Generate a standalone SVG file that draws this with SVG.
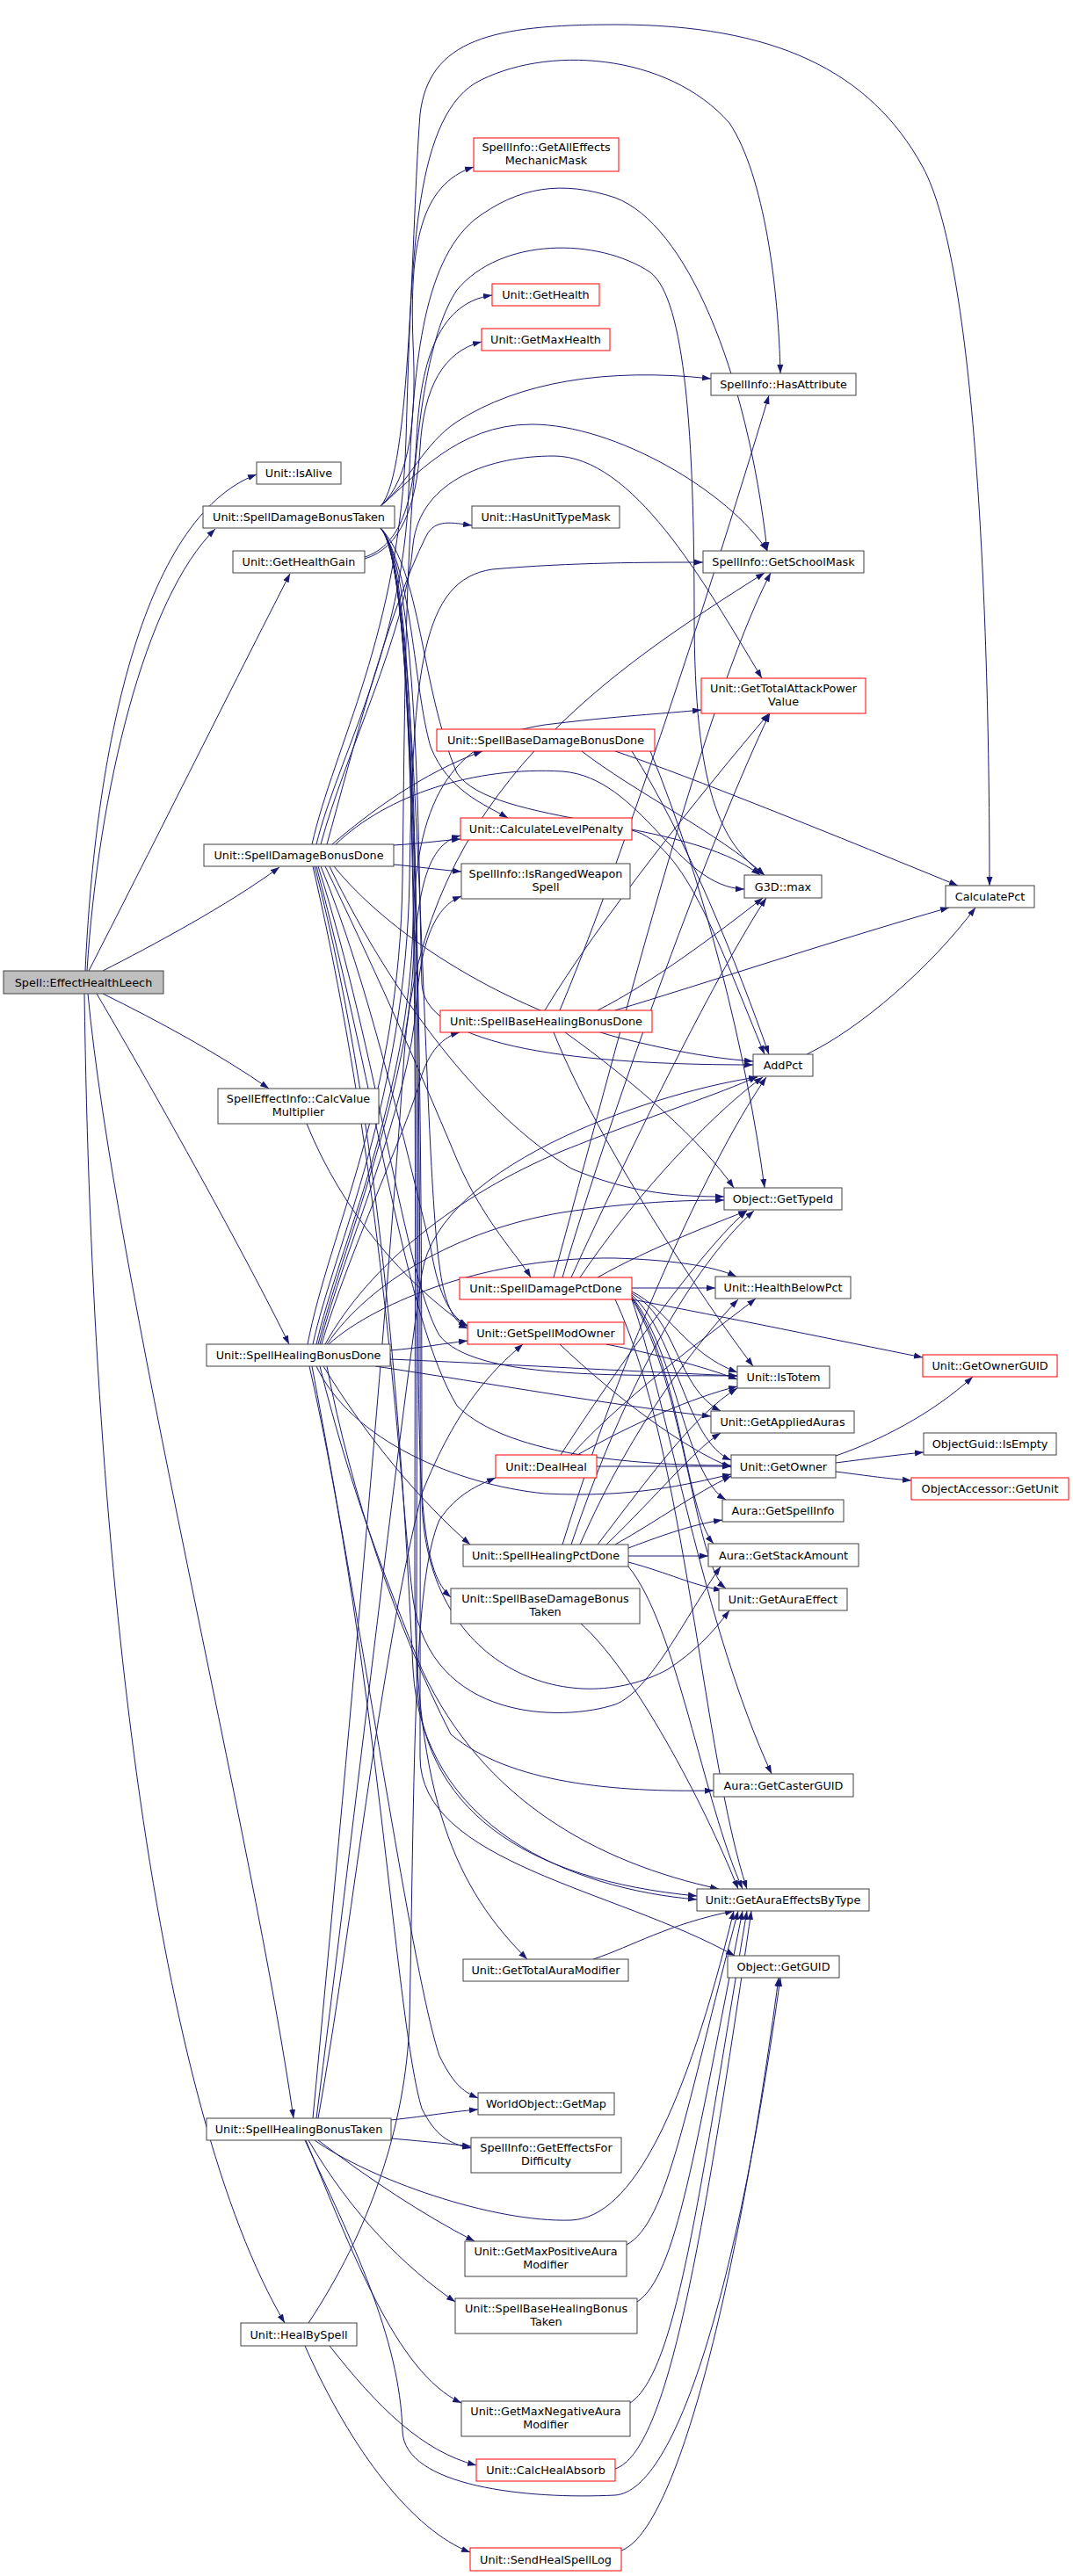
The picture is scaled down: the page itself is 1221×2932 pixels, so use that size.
<svg xmlns="http://www.w3.org/2000/svg" width="1221" height="2932" viewBox="0 0 1221 2932">
<defs>
<marker id="a" markerWidth="10" markerHeight="8" refX="10" refY="4" orient="auto" markerUnits="userSpaceOnUse"><path d="M0,0.5 L10,4 L0,7.5 z" fill="#191970"/></marker>
</defs>
<style>
.e path{fill:none;stroke:#191970;stroke-width:1;marker-end:url(#a)}
.n rect{fill:#ffffff;stroke:#404040;stroke-width:1}
.r rect{stroke:#ff0000}
.root rect{fill:#bfbfbf}
text{font-family:"DejaVu Sans","Liberation Sans",sans-serif;font-size:12.8px;text-anchor:middle;fill:#000000}
</style>
<rect width="1221" height="2932" fill="#ffffff"/>
<g id="edges" class="e">
<path d="M97,1105 C108,860 160,590 292,540"/>
<path d="M99,1105 C112,900 165,680 245,602"/>
<path d="M101,1105 C160,990 270,770 330,653"/>
<path d="M117,1105 C170,1078 260,1030 318,987"/>
<path d="M117,1131 C180,1162 250,1200 306,1239"/>
<path d="M110,1131 C180,1250 280,1430 329,1530"/>
<path d="M100,1131 C130,1450 290,2100 334,2411"/>
<path d="M96,1131 C105,1800 180,2400 324,2644"/>
<path d="M415,634 C452,622 470,580 474,500 C478,420 495,345 560,336"/>
<path d="M415,636 C456,624 474,575 478,510 C482,440 505,400 548,389"/>
<path d="M433,576 C468,545 474,470 470,390 C466,280 478,210 539,190"/>
<path d="M433,576 C466,548 482,505 520,480 C590,435 690,418 809,431"/>
<path d="M433,576 C470,545 520,483 605,483 C700,483 830,560 873,627"/>
<path d="M433,576 C468,540 468,260 478,130 C488,45 560,28 700,28 C880,28 990,80 1050,190 C1110,300 1126,700 1126,1008"/>
<path d="M433,601 C470,650 470,780 490,850 C510,900 550,915 578,931"/>
<path d="M433,601 C480,650 478,780 520,880 C560,940 780,930 865,996"/>
<path d="M433,601 C478,650 476,1000 480,1120 C484,1200 700,1212 857,1212"/>
<path d="M433,601 C476,640 476,1100 476,1500 C476,1720 482,1790 513,1818"/>
<path d="M433,601 C480,650 472,1300 472,1800 C472,2050 520,2150 600,2230"/>
<path d="M433,601 C482,650 474,1400 474,1900 C474,2060 600,2140 793,2158"/>
<path d="M433,601 C484,650 478,1500 478,2000 C478,2120 700,2150 836,2226"/>
<path d="M433,601 C478,640 480,1300 500,1440 C505,1480 515,1505 532,1512"/>
<path d="M433,601 C480,640 480,1400 480,1700 C480,1900 650,1960 760,1900 C790,1880 810,1860 830,1833"/>
<path d="M372,961 C400,860 440,700 485,610 C495,590 515,595 537,598"/>
<path d="M355,961 C380,850 455,720 462,500 C468,300 470,140 540,95 C620,50 760,60 830,140 C870,200 886,330 888,425"/>
<path d="M360,961 C385,860 458,740 465,560 C470,420 480,300 540,250 C590,212 640,205 700,225 C780,255 850,420 873,627"/>
<path d="M365,961 C392,860 462,720 470,620 C478,545 560,519 630,519 C720,519 800,660 867,772"/>
<path d="M378,961 C420,925 480,880 549,855"/>
<path d="M448,962 C480,960 500,957 524,955"/>
<path d="M448,984 C480,987 500,990 525,992"/>
<path d="M382,961 C440,905 540,872 640,878 C730,885 770,1010 847,1012"/>
<path d="M380,986 C440,1060 560,1140 700,1180 C780,1200 820,1205 857,1208"/>
<path d="M375,986 C420,1080 520,1250 650,1330 C720,1360 780,1362 824,1362"/>
<path d="M370,986 C420,1090 470,1200 520,1320 C550,1390 590,1430 604,1454"/>
<path d="M365,986 C420,1120 460,1300 490,1420 C500,1480 515,1500 532,1509"/>
<path d="M362,986 C430,1200 460,1450 500,1520 C540,1570 700,1565 839,1566"/>
<path d="M360,986 C430,1250 460,1500 520,1600 C580,1660 740,1668 832,1668"/>
<path d="M358,986 C440,1300 460,1700 470,1900 C480,2080 650,2150 793,2162"/>
<path d="M356,986 C440,1350 455,1700 470,1820 C490,1960 640,1960 700,1940 C740,1925 780,1840 820,1783"/>
<path d="M350,1530 C375,1400 455,1250 458,1000 C462,700 460,420 520,330 C570,270 680,270 740,310 C780,340 790,500 790,700 C790,900 820,960 870,996"/>
<path d="M356,1530 C380,1420 462,1250 466,1000 C470,760 480,660 560,648 C650,640 740,640 800,640"/>
<path d="M360,1530 C385,1420 466,1250 470,1050 C474,900 520,840 620,825 C700,815 760,812 798,808"/>
<path d="M362,1530 C390,1420 462,1250 470,1100 C476,1000 490,960 524,951"/>
<path d="M364,1530 C392,1420 466,1260 474,1140 C480,1060 500,1030 525,1020"/>
<path d="M366,1530 C395,1430 465,1280 478,1230 C488,1195 505,1180 523,1175"/>
<path d="M370,1530 C420,1440 520,1360 640,1310 C740,1270 820,1245 862,1225"/>
<path d="M372,1530 C420,1460 520,1400 640,1380 C720,1368 780,1366 824,1366"/>
<path d="M374,1530 C430,1480 560,1430 700,1432 C760,1434 810,1440 838,1453"/>
<path d="M444,1537 C480,1534 500,1530 532,1526"/>
<path d="M444,1547 C560,1552 700,1560 839,1566"/>
<path d="M427,1555 C560,1575 700,1600 809,1612"/>
<path d="M360,1555 C400,1640 520,1690 620,1700 C720,1705 780,1690 832,1678"/>
<path d="M368,1555 C420,1640 480,1710 535,1758"/>
<path d="M364,1555 C400,1700 440,1800 480,1900 C550,2050 680,2120 818,2150"/>
<path d="M372,1555 C400,1700 450,1850 513,1974 C580,2030 700,2040 812,2038"/>
<path d="M355,1555 C420,1900 470,2250 500,2340 C515,2370 525,2380 544,2388"/>
<path d="M352,1555 C430,1900 450,2300 480,2400 C495,2430 510,2440 536,2445"/>
<path d="M349,1279 C390,1380 460,1460 532,1510"/>
<path d="M662,855 C720,900 820,950 870,996"/>
<path d="M700,855 C760,875 900,930 1090,1008"/>
<path d="M719,855 C780,950 840,1100 875,1200"/>
<path d="M740,855 C800,1000 850,1200 870,1352"/>
<path d="M719,945 C780,960 820,1080 870,1200"/>
<path d="M637,1150 C700,1000 800,700 875,450"/>
<path d="M620,1150 C680,1050 800,900 875,812"/>
<path d="M680,1150 C740,1120 820,1060 868,1022"/>
<path d="M700,1150 C800,1120 950,1070 1080,1033"/>
<path d="M643,1175 C720,1230 800,1300 835,1352"/>
<path d="M630,1175 C680,1300 800,1480 857,1555"/>
<path d="M630,1454 C700,1200 800,800 877,652"/>
<path d="M640,1454 C700,1250 810,950 876,812"/>
<path d="M650,1454 C720,1300 820,1100 872,1022"/>
<path d="M660,1454 C730,1350 820,1260 868,1226"/>
<path d="M680,1454 C740,1420 820,1390 850,1378"/>
<path d="M719,1466 L814,1466"/>
<path d="M719,1479 C830,1500 950,1525 1050,1545"/>
<path d="M719,1470 C760,1490 780,1540 839,1562"/>
<path d="M719,1472 C770,1500 770,1580 820,1606"/>
<path d="M719,1474 C770,1520 780,1640 832,1662"/>
<path d="M719,1476 C770,1540 780,1680 826,1707"/>
<path d="M719,1477 C775,1560 780,1720 812,1757"/>
<path d="M719,1478 C780,1580 790,1780 826,1808"/>
<path d="M700,1479 C780,1650 800,2000 850,2150"/>
<path d="M719,1479 C760,1600 800,1850 878,2019"/>
<path d="M690,1530 C740,1540 800,1555 839,1570"/>
<path d="M637,1530 C700,1590 780,1650 832,1670"/>
<path d="M638,1656 C700,1560 800,1420 850,1378"/>
<path d="M650,1656 C720,1580 820,1510 860,1478"/>
<path d="M657,1656 C720,1620 790,1590 839,1578"/>
<path d="M679,1669 L832,1669"/>
<path d="M640,1758 C720,1500 820,1300 872,1226"/>
<path d="M650,1758 C720,1550 800,1430 858,1378"/>
<path d="M660,1758 C720,1620 800,1520 840,1479"/>
<path d="M680,1758 C740,1680 790,1610 839,1580"/>
<path d="M690,1758 C750,1700 790,1650 820,1631"/>
<path d="M700,1758 C750,1730 790,1700 832,1680"/>
<path d="M715,1762 C760,1745 790,1735 822,1730"/>
<path d="M715,1771 L806,1771"/>
<path d="M715,1778 C760,1790 790,1805 822,1810"/>
<path d="M715,1783 C770,1850 800,2050 845,2150"/>
<path d="M661,1848 C720,1900 800,2050 840,2150"/>
<path d="M675,2230 C720,2215 760,2190 835,2175"/>
<path d="M713,2555 C760,2530 780,2400 840,2175"/>
<path d="M725,2620 C770,2590 790,2450 845,2175"/>
<path d="M717,2735 C770,2700 795,2500 850,2175"/>
<path d="M700,2810 C760,2790 800,2550 855,2175"/>
<path d="M707,2903 C770,2880 840,2600 886,2251"/>
<path d="M362,2411 C400,2200 430,1900 480,1700 C520,1600 560,1560 595,1530"/>
<path d="M356,2411 C395,2000 440,1500 460,1200 C480,900 700,760 870,652"/>
<path d="M360,2411 C400,2100 445,1700 480,1450 C500,1320 760,1240 862,1226"/>
<path d="M445,2413 C490,2408 510,2404 544,2401"/>
<path d="M445,2434 C490,2438 510,2440 536,2443"/>
<path d="M362,2436 C420,2480 480,2520 540,2551"/>
<path d="M351,2436 C400,2520 460,2580 518,2620"/>
<path d="M348,2436 C400,2560 450,2700 525,2735"/>
<path d="M358,2436 C420,2480 560,2530 650,2527 C720,2524 780,2400 835,2175"/>
<path d="M347,2436 C400,2550 455,2660 458,2767 C460,2830 600,2845 700,2840 C770,2835 840,2600 888,2251"/>
<path d="M351,2644 C420,2540 462,2420 466,2300 C472,2000 470,1800 500,1730 C520,1700 545,1690 564,1682"/>
<path d="M375,2670 C430,2740 480,2790 542,2806"/>
<path d="M347,2670 C400,2790 470,2880 535,2905"/>
<path d="M918,1200 C980,1170 1060,1100 1110,1033"/>
<path d="M951,1657 C1000,1640 1060,1610 1107,1567"/>
<path d="M951,1665 C990,1660 1020,1656 1051,1653"/>
<path d="M951,1675 C990,1680 1010,1683 1037,1685"/>
</g>
<g id="root" class="n root"><rect x="4" y="1105" width="182" height="26"/><text x="95" y="1122.5">Spell::EffectHealthLeech</text></g>
<g id="n_isalive" class="n"><rect x="292" y="526" width="96" height="25"/><text x="340" y="543">Unit::IsAlive</text></g>
<g id="n_sdbt" class="n"><rect x="231" y="576" width="218" height="25"/><text x="340" y="593">Unit::SpellDamageBonusTaken</text></g>
<g id="n_ghg" class="n"><rect x="265" y="627" width="150" height="25"/><text x="340" y="644">Unit::GetHealthGain</text></g>
<g id="n_sdbd" class="n"><rect x="232" y="961" width="216" height="25"/><text x="340" y="978">Unit::SpellDamageBonusDone</text></g>
<g id="n_cvm" class="n"><rect x="248" y="1239" width="183" height="40"/><text x="339.5" y="1255">SpellEffectInfo::CalcValue</text><text x="339.5" y="1270">Multiplier</text></g>
<g id="n_shbd" class="n"><rect x="235" y="1530" width="209" height="25"/><text x="339.5" y="1547">Unit::SpellHealingBonusDone</text></g>
<g id="n_shbt" class="n"><rect x="235" y="2411" width="210" height="25"/><text x="340" y="2428">Unit::SpellHealingBonusTaken</text></g>
<g id="n_hbs" class="n"><rect x="274" y="2644" width="132" height="26"/><text x="340" y="2661.5">Unit::HealBySpell</text></g>
<g id="n_gaemm" class="n r"><rect x="539" y="157" width="165" height="38"/><text x="621.5" y="172">SpellInfo::GetAllEffects</text><text x="621.5" y="187">MechanicMask</text></g>
<g id="n_gethealth" class="n r"><rect x="560" y="323" width="122" height="25"/><text x="621" y="340">Unit::GetHealth</text></g>
<g id="n_getmaxhealth" class="n r"><rect x="548" y="374" width="146" height="25"/><text x="621" y="391">Unit::GetMaxHealth</text></g>
<g id="n_hutm" class="n"><rect x="537" y="576" width="168" height="25"/><text x="621" y="593">Unit::HasUnitTypeMask</text></g>
<g id="n_sbdbd" class="n r"><rect x="497" y="830" width="248" height="25"/><text x="621" y="847">Unit::SpellBaseDamageBonusDone</text></g>
<g id="n_clp" class="n r"><rect x="524" y="931" width="195" height="25"/><text x="621.5" y="948">Unit::CalculateLevelPenalty</text></g>
<g id="n_irws" class="n"><rect x="525" y="983" width="192" height="40"/><text x="621" y="999">SpellInfo::IsRangedWeapon</text><text x="621" y="1014">Spell</text></g>
<g id="n_sbhbd" class="n r"><rect x="501" y="1150" width="241" height="25"/><text x="621.5" y="1167">Unit::SpellBaseHealingBonusDone</text></g>
<g id="n_sdpd" class="n r"><rect x="523" y="1454" width="196" height="25"/><text x="621" y="1471">Unit::SpellDamagePctDone</text></g>
<g id="n_gsmo" class="n r"><rect x="532" y="1505" width="178" height="25"/><text x="621" y="1522">Unit::GetSpellModOwner</text></g>
<g id="n_dealheal" class="n r"><rect x="564" y="1656" width="115" height="26"/><text x="621.5" y="1673.5">Unit::DealHeal</text></g>
<g id="n_shpd" class="n"><rect x="527" y="1758" width="188" height="25"/><text x="621" y="1775">Unit::SpellHealingPctDone</text></g>
<g id="n_sbdbt" class="n"><rect x="513" y="1808" width="215" height="40"/><text x="620.5" y="1824">Unit::SpellBaseDamageBonus</text><text x="620.5" y="1839">Taken</text></g>
<g id="n_gtam" class="n"><rect x="527" y="2230" width="188" height="25"/><text x="621" y="2247">Unit::GetTotalAuraModifier</text></g>
<g id="n_getmap" class="n"><rect x="544" y="2382" width="155" height="25"/><text x="621.5" y="2399">WorldObject::GetMap</text></g>
<g id="n_gefd" class="n"><rect x="536" y="2433" width="171" height="40"/><text x="621.5" y="2449">SpellInfo::GetEffectsFor</text><text x="621.5" y="2464">Difficulty</text></g>
<g id="n_gmpam" class="n"><rect x="529" y="2551" width="184" height="40"/><text x="621" y="2567">Unit::GetMaxPositiveAura</text><text x="621" y="2582">Modifier</text></g>
<g id="n_sbhbt" class="n"><rect x="518" y="2616" width="207" height="40"/><text x="621.5" y="2632">Unit::SpellBaseHealingBonus</text><text x="621.5" y="2647">Taken</text></g>
<g id="n_gmnam" class="n"><rect x="525" y="2733" width="192" height="40"/><text x="621" y="2749">Unit::GetMaxNegativeAura</text><text x="621" y="2764">Modifier</text></g>
<g id="n_cha" class="n r"><rect x="542" y="2799" width="158" height="25"/><text x="621" y="2816">Unit::CalcHealAbsorb</text></g>
<g id="n_shsl" class="n r"><rect x="535" y="2900" width="172" height="26"/><text x="621" y="2917.5">Unit::SendHealSpellLog</text></g>
<g id="n_hasattr" class="n"><rect x="809" y="425" width="165" height="25"/><text x="891.5" y="442">SpellInfo::HasAttribute</text></g>
<g id="n_gsm" class="n"><rect x="800" y="627" width="183" height="25"/><text x="891.5" y="644">SpellInfo::GetSchoolMask</text></g>
<g id="n_gtapv" class="n r"><rect x="798" y="772" width="187" height="40"/><text x="891.5" y="788">Unit::GetTotalAttackPower</text><text x="891.5" y="803">Value</text></g>
<g id="n_max" class="n"><rect x="847" y="996" width="88" height="26"/><text x="891" y="1013.5">G3D::max</text></g>
<g id="n_addpct" class="n"><rect x="857" y="1200" width="68" height="25"/><text x="891" y="1217">AddPct</text></g>
<g id="n_gettypeid" class="n"><rect x="824" y="1352" width="134" height="25"/><text x="891" y="1369">Object::GetTypeId</text></g>
<g id="n_hbp" class="n"><rect x="814" y="1453" width="154" height="25"/><text x="891" y="1470">Unit::HealthBelowPct</text></g>
<g id="n_istotem" class="n"><rect x="839" y="1555" width="105" height="25"/><text x="891.5" y="1572">Unit::IsTotem</text></g>
<g id="n_gaa" class="n"><rect x="809" y="1606" width="163" height="25"/><text x="890.5" y="1623">Unit::GetAppliedAuras</text></g>
<g id="n_getowner" class="n"><rect x="832" y="1656" width="119" height="26"/><text x="891.5" y="1673.5">Unit::GetOwner</text></g>
<g id="n_gsi" class="n"><rect x="822" y="1707" width="138" height="25"/><text x="891" y="1724">Aura::GetSpellInfo</text></g>
<g id="n_gsa" class="n"><rect x="806" y="1757" width="171" height="26"/><text x="891.5" y="1774.5">Aura::GetStackAmount</text></g>
<g id="n_gae" class="n"><rect x="818" y="1808" width="146" height="25"/><text x="891" y="1825">Unit::GetAuraEffect</text></g>
<g id="n_gcg" class="n"><rect x="812" y="2019" width="159" height="26"/><text x="891.5" y="2036.5">Aura::GetCasterGUID</text></g>
<g id="n_gaebt" class="n"><rect x="793" y="2150" width="196" height="25"/><text x="891" y="2167">Unit::GetAuraEffectsByType</text></g>
<g id="n_getguid" class="n"><rect x="828" y="2226" width="127" height="25"/><text x="891.5" y="2243">Object::GetGUID</text></g>
<g id="n_calcpct" class="n"><rect x="1076" y="1008" width="101" height="25"/><text x="1126.5" y="1025">CalculatePct</text></g>
<g id="n_gog" class="n r"><rect x="1050" y="1542" width="153" height="25"/><text x="1126.5" y="1559">Unit::GetOwnerGUID</text></g>
<g id="n_isempty" class="n"><rect x="1051" y="1631" width="151" height="25"/><text x="1126.5" y="1648">ObjectGuid::IsEmpty</text></g>
<g id="n_getunit" class="n r"><rect x="1037" y="1682" width="179" height="25"/><text x="1126.5" y="1699">ObjectAccessor::GetUnit</text></g>
</svg>
